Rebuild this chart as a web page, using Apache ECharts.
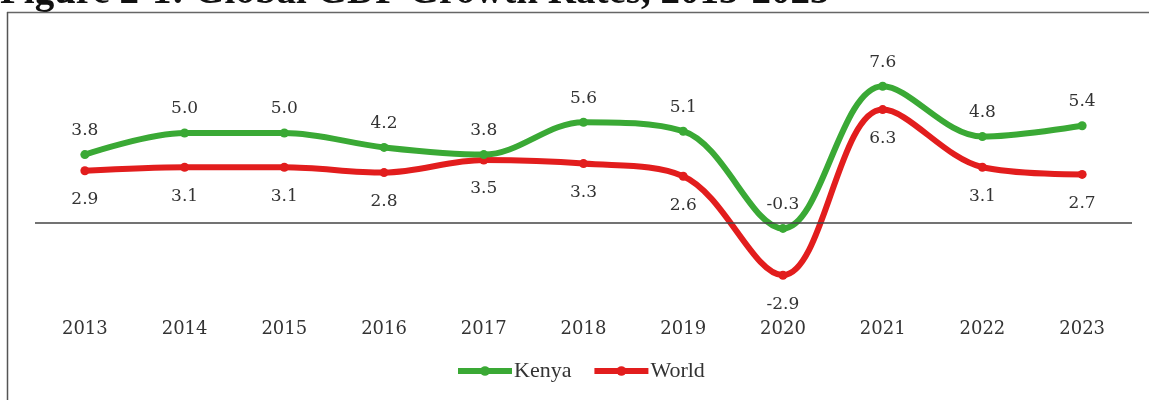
<!DOCTYPE html>
<html>
<head>
<meta charset="utf-8">
<script src="https://cdn.jsdelivr.net/npm/echarts@6/dist/echarts.min.js"></script>
<style>
  html, body { margin: 0; padding: 0; background: #fff; }
  #chart { width: 1149px; height: 400px; }
</style>
</head>
<body>
<div id="chart"></div>
<script>
// GDP growth rates (%), Kenya vs World
const years = ['2013', '2014', '2015', '2016', '2017', '2018', '2019', '2020', '2021', '2022', '2023'];
const kenya = [3.8, 5.0, 5.0, 4.2, 3.8, 5.6, 5.1, -0.3, 7.6, 4.8, 5.4];
const world = [2.9, 3.1, 3.1, 2.8, 3.5, 3.3, 2.6, -2.9, 6.3, 3.1, 2.7];
const seriesNames = ['Kenya', 'World'];
const titleText = 'Figure 2-1: Global GDP Growth Rates, 2013-2023';

const GREEN = '#3aa935';
const RED = '#e21d1d';
const TEXT = '#333333';
const NUM_FONT = 'DejaVu Serif';
const LABEL_FONT = 'Liberation Serif';

const chart = echarts.init(document.getElementById('chart'));

function valueLabel(position, distance) {
  return {
    show: true,
    position: position,
    distance: distance,
    color: TEXT,
    fontFamily: NUM_FONT,
    fontSize: 17,
    formatter: p => p.value.toFixed(1)
  };
}

chart.setOption({
  animation: false,
  backgroundColor: '#ffffff',
  graphic: [
    // heading, partly above the page edge
    {
      type: 'text', left: 0, top: -27, silent: true,
      style: { text: titleText, fill: '#111', font: 'bold 39px "Liberation Serif"' }
    },
    // frame: top and left rules
    {
      type: 'line', silent: true,
      shape: { x1: 7, y1: 12.5, x2: 1149, y2: 12.5 },
      style: { stroke: '#666', lineWidth: 1.5 }
    },
    {
      type: 'line', silent: true,
      shape: { x1: 7.5, y1: 12, x2: 7.5, y2: 400 },
      style: { stroke: '#555', lineWidth: 1.5 }
    }
  ],
  grid: { left: 35, right: 17, top: 43, bottom: 87 },
  legend: {
    data: seriesNames,
    left: 450, top: 355,
    itemWidth: 54, itemHeight: 12, itemGap: 20,
    lineStyle: { width: 6 },
    textStyle: { color: TEXT, fontFamily: LABEL_FONT, fontSize: 22, padding: [0, 0, 0, -3] }
  },
  xAxis: {
    type: 'category',
    data: years,
    boundaryGap: true,
    axisLine: { show: false, onZero: false },
    axisTick: { show: false },
    axisLabel: { color: TEXT, fontFamily: NUM_FONT, fontSize: 18, margin: 7 }
  },
  yAxis: {
    type: 'value',
    min: -5, max: 10, interval: 5,
    show: false,
    splitLine: { show: false }
  },
  series: [
    {
      name: seriesNames[0],
      type: 'line',
      data: kenya,
      smooth: 0.35,
      symbol: 'circle',
      symbolSize: 9,
      color: GREEN,
      lineStyle: { width: 6, color: GREEN },
      itemStyle: { color: GREEN },
      label: valueLabel('top', 11),
      z: 3,
      markLine: {
        silent: true,
        symbol: 'none',
        label: { show: false },
        lineStyle: { color: '#444', width: 1.5, type: 'solid' },
        data: [{ yAxis: 0 }]
      }
    },
    {
      name: seriesNames[1],
      type: 'line',
      data: world,
      smooth: 0.35,
      symbol: 'circle',
      symbolSize: 9,
      color: RED,
      lineStyle: { width: 6, color: RED },
      itemStyle: { color: RED },
      label: valueLabel('bottom', 16),
      z: 2
    }
  ]
});
</script>
</body>
</html>
